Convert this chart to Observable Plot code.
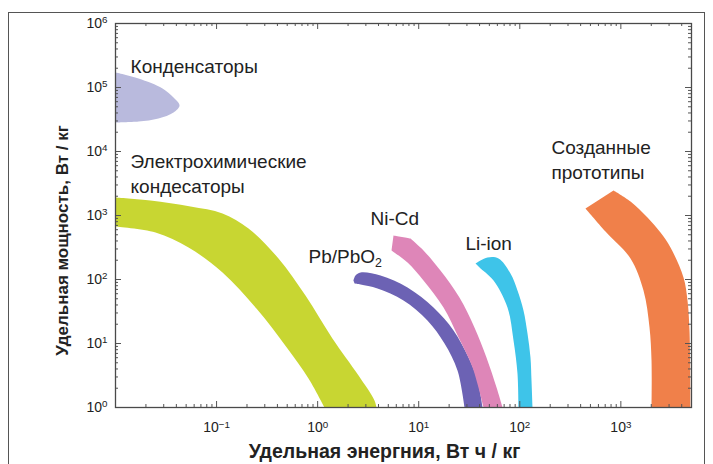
<!DOCTYPE html>
<html><head><meta charset="utf-8">
<script src="https://cdn.jsdelivr.net/npm/d3@7"></script>
<script src="https://cdn.jsdelivr.net/npm/@observablehq/plot@0.6"></script>
<style>
html,body{margin:0;padding:0;background:#fff;overflow:hidden;}
#wrap{position:relative;width:713px;height:464px;}
#border{position:absolute;left:8px;top:12px;width:697px;height:470px;border:1.5px solid #555;box-sizing:border-box;}
#chart{position:absolute;left:0;top:0;}
</style></head><body><div id="wrap"><div id="border"></div><div id="chart"></div></div>
<script>
// [specific energy (Wh/kg), specific power (W/kg)] outlines
const condensers = [[0.01,171000],[0.0169,138000],[0.0292,96500],[0.0375,69800],[0.043,52300],[0.0375,40700],[0.0266,32800],[0.0169,29400],[0.01,28400]];
const electrochem = [[0.01,1910],[0.0222,1716],[0.0552,1382],[0.1145,1075],[0.207,626],[0.41,213],[0.758,56.2],[1.40,12.0],[2.54,3.16],[3.65,1.29],[3.82,1],
  [1.17,1],[0.812,2.84],[0.503,8.36],[0.248,35.2],[0.1145,128.6],[0.0528,316],[0.0249,542],[0.01,673]];
const pbpbo2 = [[2.26,96.5],[2.37,115.5],[2.66,128.6],[4.19,115.5],[7.75,75.0],[14.0,36.5],[22.1,16.0],[31.1,6.04],[38.2,2.64],[42.8,1],
  [28.4,1],[24.2,3.79],[18.0,10],[12.2,22.9],[7.07,46.9],[3.91,72.3],[2.66,83.5],[2.32,86.6]];
const nicd = [[5.63,487],[8.29,437],[11.15,284],[16.4,138],[25.3,52.3],[35.6,17.8],[46.8,6.04],[58.9,2.05],[67.5,1],
  [43.8,1],[34.1,4.22],[24.8,12.4],[17.6,36.5],[11.15,96.5],[7.75,184],[5.38,284]];
const liion = [[36.5,178],[47.9,221],[61.6,213],[80.9,124],[94.9,67.3],[108.8,32.8],[119.2,14.3],[127.6,6.04],[130.6,2.64],[133.6,1],
  [97.1,1],[94.9,3.40],[86.7,11.14],[75.6,36.5],[55.0,96.5],[40.9,148.6]];
const prototypes = [[845.6,2458],[1246,1655],[1835,930],[2468,542],[3099,316],[4168,107.5],[4564,46.9],[4778,16.0],[4888,1],
  [2011,1],[2011,5.42],[1921,17.8],[1675,67.3],[1246,213],[704.8,562],[446.9,1286]];

const shapes = [
  {data: condensers, color: "#b9badd", corners: []},
  {data: electrochem, color: "#c8d632", corners: [10, 11]},
  {data: pbpbo2, color: "#6c62b4", corners: [9, 10]},
  {data: nicd, color: "#de86b8", corners: [1, 8, 9]},
  {data: liion, color: "#3ec4e9", corners: [9, 10]},
  {data: prototypes, color: "#f0804a", corners: [8, 9]}
];

const labelTexts = ["Конденсаторы", "Электрохимические\nкондесаторы", "Созданные\nпрототипы", "Ni-Cd", "Pb/PbO_2", "Li-ion"];
const labelEnergy = [0.0141, 0.0141, 206, 3.33, 0.812, 29.0];
const labelPower = [316000, 10370, 17150, 1334, 340, 542];
const labels = labelTexts.map((t, i) => ({t, x: labelEnergy[i], y: labelPower[i]}));

const majorX = [0.1, 1, 10, 100, 1000];
const majorY = [1, 10, 100, 1000, 10000, 100000, 1000000];
const minorSteps = [2, 3, 4, 5, 6, 7, 8, 9];
const minorX = [];
for (const d of [0.01, 0.1, 1, 10, 100, 1000]) for (const k of minorSteps) if (d * k < 5000) minorX.push(d * k);
const minorY = [];
for (const d of [1, 10, 100, 1000, 10000, 100000]) for (const k of minorSteps) minorY.push(d * k);

const xTitle = "Удельная энергния, Вт ч / кг";
const yTitle = "Удельная мощность, Вт / кг";

const W = 713, H = 464, mL = 115, mR = 22, mT = 23, mB = 57;
const fw = W - mL - mR, fh = H - mT - mB;
const tickColor = "#555";
const fmtPow = d => "10^" + String(Math.round(Math.log10(d))).replace("-", "−");
// repeat corner vertices so the smooth curve keeps them sharp
const withCorners = s => s.data.flatMap((p, i) => s.corners.includes(i) ? [p, p] : [p]);

const svg = Plot.plot({
  width: W, height: H,
  marginLeft: mL, marginRight: mR, marginTop: mT, marginBottom: mB,
  style: {fontFamily: "'Liberation Sans', Arial, sans-serif", fontSize: "14px", color: "#222", background: "transparent"},
  x: {type: "log", domain: [0.01, 5000]},
  y: {type: "log", domain: [1, 1e6]},
  marks: [
    ...shapes.map(s => Plot.line(withCorners(s), {x: d => d[0], y: d => d[1], fill: s.color, stroke: "none", curve: "catmull-rom", clip: true})),
    // inward ticks on all four sides
    Plot.tickX(minorX, {x: d => d, insetTop: fh - 3, stroke: tickColor}),
    Plot.tickX(majorX, {x: d => d, insetTop: fh - 6, stroke: tickColor}),
    Plot.tickX(minorX, {x: d => d, insetBottom: fh - 3, stroke: tickColor}),
    Plot.tickX(majorX, {x: d => d, insetBottom: fh - 6, stroke: tickColor}),
    Plot.tickY(minorY, {y: d => d, insetRight: fw - 3, stroke: tickColor}),
    Plot.tickY(majorY, {y: d => d, insetRight: fw - 6, stroke: tickColor}),
    Plot.tickY(minorY, {y: d => d, insetLeft: fw - 3, stroke: tickColor}),
    Plot.tickY(majorY, {y: d => d, insetLeft: fw - 6, stroke: tickColor}),
    Plot.frame({stroke: "#4a4a4a", strokeWidth: 1.3}),
    Plot.axisX({ticks: majorX, tickSize: 0, tickPadding: 15, tickFormat: fmtPow, label: null, fontSize: 14}),
    Plot.axisY({ticks: majorY, tickSize: 0, tickPadding: 8, tickFormat: fmtPow, label: null, fontSize: 14}),
    Plot.text(labels, {x: "x", y: "y", text: "t", textAnchor: "start", lineAnchor: "top", fontSize: 19, lineHeight: 1.3, fill: "#222"}),
    Plot.text([xTitle], {frameAnchor: "bottom", textAnchor: "middle", dx: -19, dy: 50, fontSize: 19.5, fontWeight: "bold", fill: "#222"}),
    Plot.text([yTitle], {frameAnchor: "left", textAnchor: "middle", dx: -53, dy: 25, rotate: -90, fontSize: 17, fontWeight: "bold", fill: "#222"})
  ]
});

d3.select(svg).selectAll("text").each(function() {
  const t = this.textContent;
  const m = t.match(/^10\^(.+)$/);
  const s = d3.select(this);
  if (m) {
    s.text(null);
    s.append("tspan").text("10");
    s.append("tspan").attr("dy", "-0.5em").attr("font-size", "0.7em").text(m[1]);
  } else if (t.includes("_2")) {
    const parts = t.split("_");
    s.text(null);
    s.append("tspan").text(parts[0]);
    s.append("tspan").attr("dy", "0.3em").attr("font-size", "0.65em").text(parts[1]);
  }
});

document.getElementById("chart").appendChild(svg);
</script>
</body></html>
